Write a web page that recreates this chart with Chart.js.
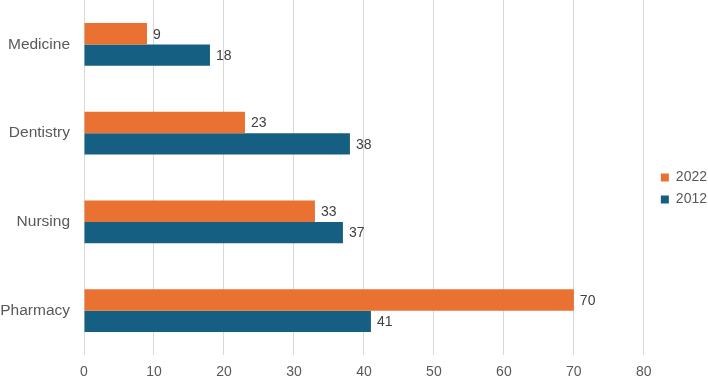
<!DOCTYPE html>
<html><head><meta charset="utf-8">
<script src="https://cdn.jsdelivr.net/npm/chart.js@4/dist/chart.umd.min.js"></script>
<style>html,body{margin:0;padding:0;background:#fff}#wrap{width:708px;height:377px}</style>
</head><body><div id="wrap"><canvas id="c"></canvas></div>
<script>
const categories = ["Medicine", "Dentistry", "Nursing", "Pharmacy"];
const series2022 = [9, 23, 33, 70];
const series2012 = [18, 38, 37, 41];
const seriesNames = ["2022", "2012"];
const xTicks = [0, 10, 20, 30, 40, 50, 60, 70, 80];

const valueLabels = {
  id: 'valueLabels',
  afterLayout(chart) {
    if (chart.legend) { chart.legend.left += 9; chart.legend.right += 9; }
  },
  afterDatasetsDraw(chart) {
    const ctx = chart.ctx;
    ctx.save();
    ctx.font = '14px "Liberation Sans", Arial, sans-serif';
    ctx.fillStyle = '#404040';
    ctx.textBaseline = 'middle';
    ctx.textAlign = 'left';
    chart.data.datasets.forEach((ds, i) => {
      const meta = chart.getDatasetMeta(i);
      meta.data.forEach((bar, j) => {
        ctx.fillText(String(ds.data[j]), bar.x + 6, bar.y + 1);
      });
    });
    ctx.restore();
  }
};

new Chart(document.getElementById('c'), {
  type: 'bar',
  data: {
    labels: categories,
    datasets: [
      { label: seriesNames[0], data: series2022, backgroundColor: '#E97132', categoryPercentage: 0.48, barPercentage: 1.0 },
      { label: seriesNames[1], data: series2012, backgroundColor: '#156082', categoryPercentage: 0.48, barPercentage: 1.0 }
    ]
  },
  options: {
    indexAxis: 'y',
    responsive: true,
    maintainAspectRatio: false,
    animation: false,
    layout: { padding: 0 },
    plugins: {
      tooltip: { enabled: false },
      legend: {
        position: 'right',
        labels: {
          boxWidth: 8, boxHeight: 8, padding: 8,
          color: '#595959',
          font: { family: '"Liberation Sans", Arial, sans-serif', size: 14 }
        }
      }
    },
    scales: {
      x: {
        min: 0, max: 80,
        afterBuildTicks(scale) { scale.ticks = xTicks.map(v => ({ value: v })); },
        grid: { color: '#D9D9D9', lineWidth: 1, drawTicks: false },
        border: { display: false },
        afterFit(scale) { scale.height = 22; },
        ticks: { color: '#595959', padding: 9, font: { family: '"Liberation Sans", Arial, sans-serif', size: 14 } }
      },
      y: {
        grid: { display: false },
        border: { display: false },
        afterFit(scale) { scale.width = 84; scale.paddingTop = 0; scale.paddingBottom = 0; },
        ticks: { color: '#595959', padding: 6, font: { family: '"Liberation Sans", Arial, sans-serif', size: 15.5 } }
      }
    }
  },
  plugins: [valueLabels]
});
</script></body></html>
